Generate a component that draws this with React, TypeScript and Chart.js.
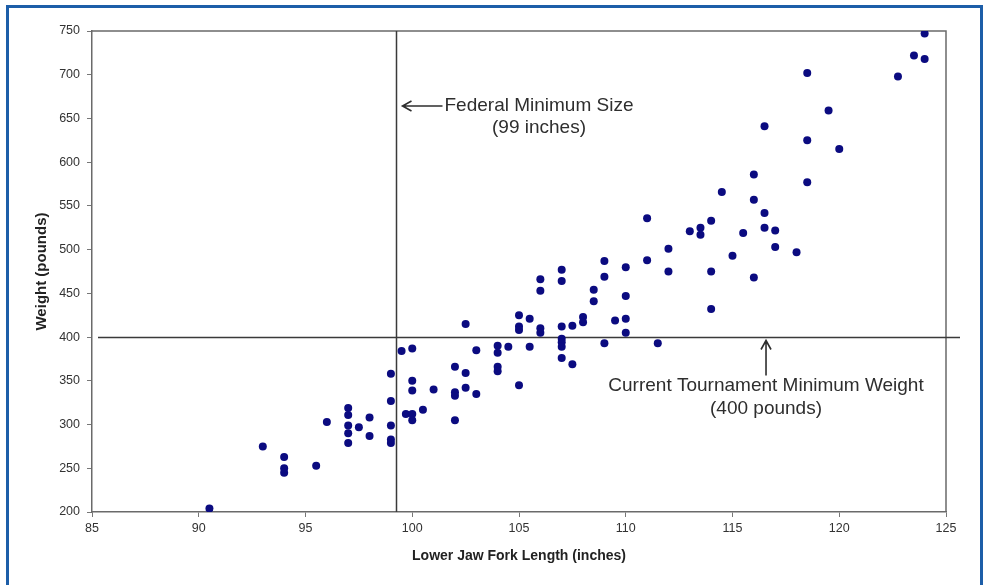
import React, { useEffect, useRef } from "react";
import { Chart, registerables } from "chart.js";

Chart.register(...registerables);

// Lower jaw fork length (inches)
const lengths = [
  90.5, 93, 94, 94, 94, 95.5, 96, 97, 97, 97, 97, 97, 97.5, 98, 98,
  99, 99, 99, 99, 99, 99.5, 100, 100, 100, 99.7, 100, 100, 100.5, 101,
  102, 102, 102, 102, 102.5, 102.5, 102.5, 103, 103, 104, 104, 104, 104,
  104.5, 105, 105, 105, 105, 105.5, 105.5, 106, 106, 106, 106, 107, 107,
  107, 107, 107, 107, 107, 107.5, 107.5, 108, 108, 108.5, 108.5, 109, 109,
  109, 109.5, 110, 110, 110, 110, 111, 111, 111.5, 112, 112, 113, 113.5,
  113.5, 114, 114, 114, 115, 115.5, 114.5, 116, 116, 116, 116.5, 116.5,
  116.5, 117, 117, 118, 118.5, 118.5, 118.5, 119.5, 120, 122.75, 123.5,
  124, 124,
];
// Weight (pounds)
const weights = [
  204, 275, 263, 250, 245, 253, 303, 319, 311, 299, 290, 279, 297, 308, 287,
  358, 327, 299, 283, 279, 384, 387, 350, 339, 312, 312, 305, 317, 340,
  366, 337, 333, 305, 415, 359, 342, 385, 335, 390, 382, 366, 361,
  389, 425, 412, 408, 345, 421, 389, 466, 453, 410, 405, 477, 464,
  412, 398, 394, 389, 376, 413, 369, 423, 417, 454, 441, 487, 469,
  393, 419, 480, 447, 421, 405, 488, 536, 393, 501, 475, 521, 525,
  517, 533, 475, 432, 493, 519, 566, 586, 557, 468, 641, 542,
  525, 522, 503, 497, 702, 625, 577, 659, 615, 698, 722,
  747, 718,
];

const xTickValues = [85, 90, 95, 100, 105, 110, 115, 120, 125];
const yTickValues = [200, 250, 300, 350, 400, 450, 500, 550, 600, 650, 700, 750];

const federalMinSize = 99.25;
const tournamentMinWeight = 400;
const federalLabel = ["Federal Minimum Size", "(99 inches)"];
const tournamentLabel = ["Current Tournament Minimum Weight", "(400 pounds)"];

const xTitle = "Lower Jaw Fork Length (inches)";
const yTitle = "Weight (pounds)";

const FONT = "'Liberation Sans', Arial, sans-serif";

const annotationPlugin = {
  id: "refLines",
  beforeDatasetsDraw(chart: any) {
    const { ctx, chartArea, scales } = chart;
    const xs = scales.x;
    const ys = scales.y;
    ctx.save();
    // plot box (top & right)
    ctx.strokeStyle = "#6a6a6a";
    ctx.lineWidth = 1.5;
    ctx.beginPath();
    ctx.moveTo(chartArea.left, chartArea.top);
    ctx.lineTo(chartArea.right, chartArea.top);
    ctx.lineTo(chartArea.right, chartArea.bottom);
    ctx.stroke();

    // reference lines
    const vx = Math.round(xs.getPixelForValue(federalMinSize)) + 0.5;
    const hy = Math.round(ys.getPixelForValue(tournamentMinWeight)) + 0.5;
    ctx.strokeStyle = "#3a3a3a";
    ctx.lineWidth = 1.5;
    ctx.beginPath();
    ctx.moveTo(vx, chartArea.top);
    ctx.lineTo(vx, chartArea.bottom);
    ctx.stroke();
    ctx.beginPath();
    ctx.moveTo(chartArea.left + 6, hy);
    ctx.lineTo(chartArea.right + 14, hy);
    ctx.stroke();

    // annotations
    ctx.fillStyle = "#2e2e2e";
    ctx.strokeStyle = "#2e2e2e";
    ctx.font = `19px ${FONT}`;
    ctx.textBaseline = "middle";
    ctx.lineWidth = 1.6;

    // federal: left arrow + text
    const fy = chartArea.top + 75;
    const ax0 = vx + 6;
    const ax1 = vx + 46;
    ctx.beginPath();
    ctx.moveTo(ax1, fy);
    ctx.lineTo(ax0, fy);
    ctx.moveTo(ax0 + 9, fy - 5);
    ctx.lineTo(ax0, fy);
    ctx.lineTo(ax0 + 9, fy + 5);
    ctx.stroke();
    const w1 = ctx.measureText(federalLabel[0]).width;
    const tx = ax1 + 2;
    ctx.textAlign = "left";
    ctx.fillText(federalLabel[0], tx, fy);
    ctx.textAlign = "center";
    ctx.fillText(federalLabel[1], tx + w1 / 2, fy + 22);

    // tournament: up arrow + text
    const ux = xs.getPixelForValue(116.57);
    const uy0 = hy + 3;
    const uy1 = hy + 38;
    ctx.beginPath();
    ctx.moveTo(ux, uy1);
    ctx.lineTo(ux, uy0);
    ctx.moveTo(ux - 5, uy0 + 9);
    ctx.lineTo(ux, uy0);
    ctx.lineTo(ux + 5, uy0 + 9);
    ctx.stroke();
    ctx.textAlign = "center";
    ctx.fillText(tournamentLabel[0], ux, hy + 48);
    ctx.fillText(tournamentLabel[1], ux, hy + 71);
    ctx.restore();
  },
};

export default function App() {
  const canvasRef = useRef<HTMLCanvasElement | null>(null);

  useEffect(() => {
    const canvas = canvasRef.current;
    if (!canvas) return;
    const points = lengths.map((x, i) => ({ x, y: weights[i] }));
    const chart = new Chart(canvas, {
      type: "scatter",
      data: {
        datasets: [
          {
            data: points,
            backgroundColor: "#0b0b80",
            borderWidth: 0,
            pointRadius: 4,
            pointHoverRadius: 4,
          },
        ],
      },
      options: {
        responsive: false,
        animation: false,
        devicePixelRatio: 1,
        layout: { padding: { left: 0, top: 31, right: 42, bottom: 0 } },
        plugins: {
          legend: { display: false },
          tooltip: { enabled: false },
        },
        scales: {
          x: {
            type: "linear",
            min: 85,
            max: 125,
            afterBuildTicks: (s: any) => {
              s.ticks = xTickValues.map((v) => ({ value: v }));
            },
            afterFit: (s: any) => {
              s.height = 73;
            },
            grid: {
              display: true,
              drawOnChartArea: false,
              drawTicks: true,
              tickLength: 5,
              color: "#777",
            },
            border: { display: true, color: "#6a6a6a", width: 1.5 },
            ticks: {
              padding: 4,
              color: "#333",
              font: { family: FONT, size: 12.5 },
              maxRotation: 0,
            },
            title: {
              display: true,
              text: xTitle,
              color: "#222",
              font: { family: FONT, size: 14, weight: "bold" },
              padding: { top: 0, bottom: 20 },
            },
          },
          y: {
            type: "linear",
            min: 200,
            max: 750,
            afterBuildTicks: (s: any) => {
              s.ticks = yTickValues.map((v) => ({ value: v }));
            },
            afterFit: (s: any) => {
              s.width = 92;
            },
            grid: {
              display: true,
              drawOnChartArea: false,
              drawTicks: true,
              tickLength: 5,
              color: "#777",
            },
            border: { display: true, color: "#6a6a6a", width: 1.5 },
            ticks: {
              padding: 7,
              color: "#333",
              font: { family: FONT, size: 12.5 },
            },
            title: {
              display: true,
              text: yTitle,
              color: "#222",
              font: { family: FONT, size: 15, weight: "bold" },
              padding: { top: 33, bottom: 0 },
            },
          },
        },
      },
      plugins: [annotationPlugin],
    } as any);
    return () => chart.destroy();
  }, []);

  return (
    <div
      style={{
        position: "fixed",
        left: 0,
        top: 0,
        width: 988,
        height: 585,
        overflow: "hidden",
        background: "#fff",
      }}
    >
      <canvas
        ref={canvasRef}
        width={988}
        height={585}
        style={{ position: "absolute", left: 0, top: 0, width: 988, height: 585 }}
      />
      <div
        style={{
          position: "absolute",
          left: 6,
          top: 5,
          width: 971,
          height: 640,
          border: "3px solid #1d5ea8",
          pointerEvents: "none",
        }}
      />
    </div>
  );
}
